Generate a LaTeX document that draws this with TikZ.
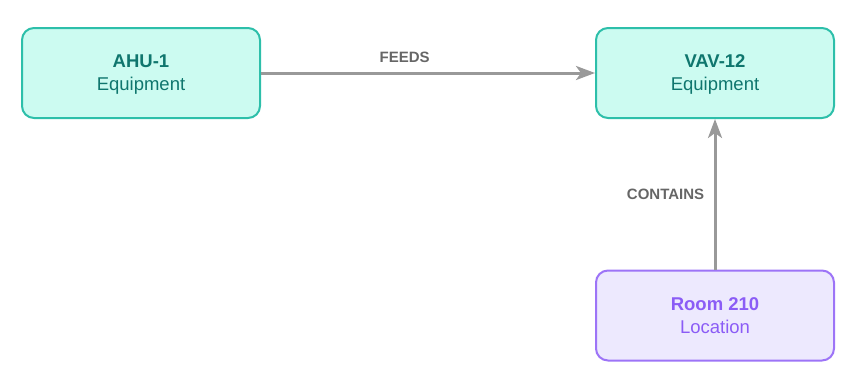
\documentclass[tikz,border=0pt]{standalone}
\usepackage{fontspec}
\setmainfont{Liberation Sans}
\usetikzlibrary{arrows.meta}
\definecolor{eqfill}{HTML}{CCFBF1}
\definecolor{eqline}{HTML}{2DBFAA}
\definecolor{eqtext}{HTML}{0F766E}
\definecolor{locfill}{HTML}{EDE9FE}
\definecolor{locline}{HTML}{9D74F7}
\definecolor{loctext}{HTML}{8B5CF6}
\definecolor{relline}{HTML}{999999}
\definecolor{reltext}{HTML}{666666}
\begin{document}
\begin{tikzpicture}[x=1pt,y=-1pt,
  entity/.style={rounded corners=12pt,line width=2pt,minimum width=238pt,minimum height=90pt,align=center,text depth=0pt,
    font=\fontsize{18.5}{23}\selectfont},
  equip/.style={entity,draw=eqline,fill=eqfill,text=eqtext},
  place/.style={entity,draw=locline,fill=locfill,text=loctext},
  rel/.style={-{Stealth[length=19pt,width=14pt,inset=5pt]},relline,line width=3pt},
  rellabel/.style={text=reltext,font=\bfseries\fontsize{15}{17}\selectfont}]
  \useasboundingbox (0,0) rectangle (852,383);
  \node[equip] (ahu) at (141,73) {\textbf{AHU-1}\\Equipment};
  \node[equip] (vav) at (715,73) {\textbf{VAV-12}\\Equipment};
  \node[place] (room) at (715,315.5) {\textbf{Room 210}\\Location};
  \draw[rel] (ahu) -- node[rellabel,pos=0.43,yshift=16pt] (feeds) {FEEDS} (vav);
  \draw[rel] (room) -- node[rellabel,left=6pt] (contains) {CONTAINS} (vav);
\end{tikzpicture}
\end{document}
